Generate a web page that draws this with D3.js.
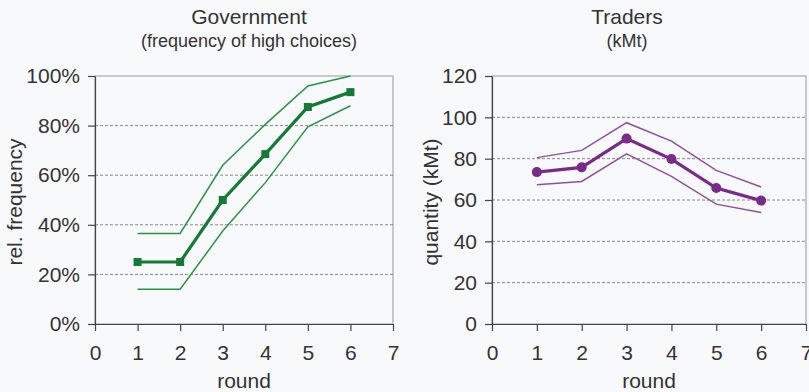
<!DOCTYPE html>
<html>
<head>
<meta charset="utf-8">
<script src="https://cdn.jsdelivr.net/npm/d3@7"></script>
<style>
  body { margin: 0; background: #f8f9fb; }
  text { font-family: 'Liberation Sans', Arial, sans-serif; fill: #333; }
  .axis path, .axis line { stroke: #444; stroke-width: 1.2; }
  .axis text { font-size: 21px; fill: #333; }
  .grid line { stroke: #888; stroke-width: 1; stroke-dasharray: 3,2; }
</style>
</head>
<body>
<div id="chart"></div>
<script>
const rounds = [1, 2, 3, 4, 5, 6]
const xTicks = [0, 1, 2, 3, 4, 5, 6, 7]

// Government: frequency of high choices (share)
const govMean = [0.25, 0.25, 0.50, 0.685, 0.875, 0.935]
const govUpper = [0.365, 0.365, 0.64, 0.805, 0.96, 1.0]
const govLower = [0.14, 0.14, 0.375, 0.57, 0.795, 0.88]
const govTicks = [0, 0.2, 0.4, 0.6, 0.8, 1.0]

// Traders: quantity in kMt
const trdMean = [73.5, 75.8, 89.7, 79.8, 65.8, 59.7]
const trdUpper = [80.5, 84, 97.4, 88.5, 74.3, 66.3]
const trdLower = [67.4, 69, 82.3, 71.4, 58, 53.9]
const trdTicks = [0, 20, 40, 60, 80, 100, 120]

const svg = d3
  .select('#chart')
  .append('svg')
  .attr('width', 809)
  .attr('height', 392)

function panel(opts) {
  const x = d3.scaleLinear().domain([0, 7]).range([opts.left, opts.right])
  const y = d3.scaleLinear().domain([0, opts.max]).range([324, 76])
  const g = svg.append('g')

  // plot frame
  g.append('rect')
    .attr('x', x(0))
    .attr('y', y(opts.max))
    .attr('width', x(7) - x(0))
    .attr('height', y(0) - y(opts.max))
    .attr('fill', 'none')
    .attr('stroke', '#a8a8a8')
    .attr('stroke-width', 1.2)

  // dashed gridlines
  g.append('g')
    .attr('class', 'grid')
    .selectAll('line')
    .data(opts.ticks.filter(d => d > 0 && d < opts.max))
    .enter()
    .append('line')
    .attr('x1', x(0))
    .attr('x2', x(7))
    .attr('y1', d => y(d))
    .attr('y2', d => y(d))

  const yAxis = d3.axisLeft(y).tickValues(opts.ticks).tickSize(7).tickPadding(8)
    .tickFormat(opts.format).tickSizeOuter(0)
  g.append('g')
    .attr('class', 'axis y-axis')
    .attr('transform', 'translate(' + x(0) + ',0)')
    .call(yAxis)

  const xAxis = d3.axisBottom(x).tickValues(xTicks).tickSize(7).tickPadding(14)
    .tickFormat(d3.format('d')).tickSizeOuter(0)
  g.append('g')
    .attr('class', 'axis x-axis')
    .attr('transform', 'translate(0,' + y(0) + ')')
    .call(xAxis)

  const line = d3.line().x((d, i) => x(rounds[i])).y(d => y(d))

  ;[opts.upper, opts.lower].forEach(s => {
    g.append('path')
      .datum(s)
      .attr('d', line)
      .attr('fill', 'none')
      .attr('stroke', opts.light)
      .attr('stroke-width', 1.5)
  })

  g.append('path')
    .datum(opts.mean)
    .attr('d', line)
    .attr('fill', 'none')
    .attr('stroke', opts.color)
    .attr('stroke-width', 3.2)

  if (opts.marker === 'square') {
    g.selectAll('.mk')
      .data(opts.mean)
      .enter()
      .append('rect')
      .attr('x', (d, i) => x(rounds[i]) - 4)
      .attr('y', d => y(d) - 4)
      .attr('width', 8)
      .attr('height', 8)
      .attr('fill', opts.color)
  } else {
    g.selectAll('.mk')
      .data(opts.mean)
      .enter()
      .append('circle')
      .attr('cx', (d, i) => x(rounds[i]))
      .attr('cy', d => y(d))
      .attr('r', 5)
      .attr('fill', opts.color)
  }

  // titles
  g.append('text')
    .attr('x', opts.titleX)
    .attr('y', 24)
    .attr('text-anchor', 'middle')
    .style('font-size', '21px')
    .text(opts.title)
  g.append('text')
    .attr('x', opts.titleX)
    .attr('y', 47)
    .attr('text-anchor', 'middle')
    .style('font-size', '18px')
    .text(opts.subtitle)

  g.append('text')
    .attr('x', (x(0) + x(7)) / 2)
    .attr('y', 388)
    .attr('text-anchor', 'middle')
    .style('font-size', '21px')
    .text('round')

  g.append('text')
    .attr('transform', 'translate(' + opts.yLabelX + ',' + 202 + ') rotate(-90)')
    .attr('text-anchor', 'middle')
    .style('font-size', '21px')
    .text(opts.yLabel)
}

panel({
  left: 95, right: 393, max: 1, ticks: govTicks, format: d3.format('.0%'),
  mean: govMean, upper: govUpper, lower: govLower,
  color: '#157a36', light: '#2a9446', marker: 'square',
  title: 'Government', subtitle: '(frequency of high choices)', titleX: 249,
  yLabel: 'rel. frequency', yLabelX: 22
})

panel({
  left: 492, right: 806, max: 120, ticks: trdTicks, format: d3.format('d'),
  mean: trdMean, upper: trdUpper, lower: trdLower,
  color: '#7a2a8a', light: '#9050a0', marker: 'circle',
  title: 'Traders', subtitle: '(kMt)', titleX: 627,
  yLabel: 'quantity (kMt)', yLabelX: 438
})
</script>
</body>
</html>
